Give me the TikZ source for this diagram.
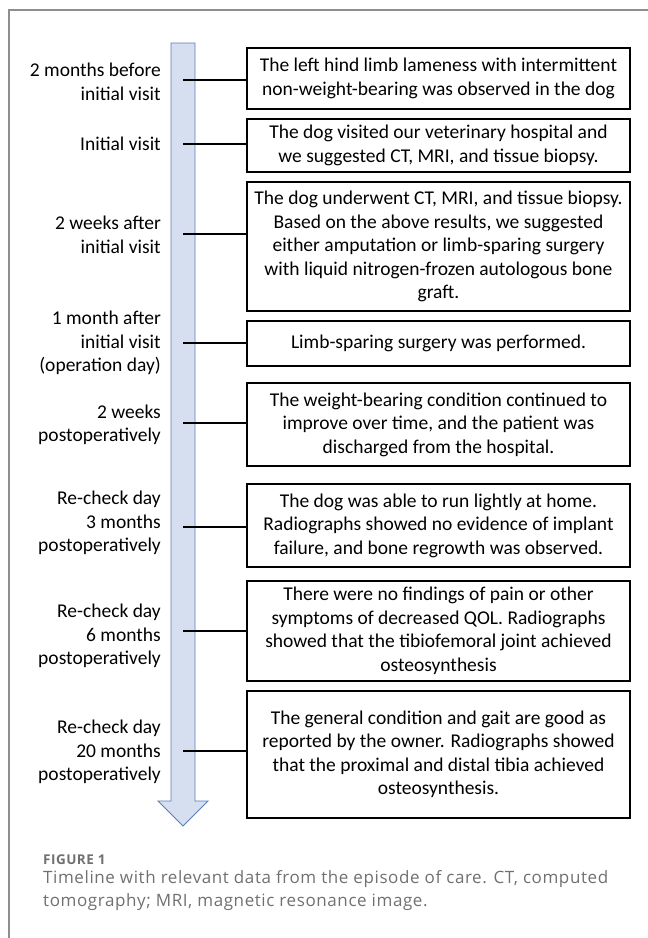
\documentclass[tikz,border=0pt]{standalone}
\usepackage{fontspec}
\setmainfont{Carlito}
\newfontfamily\capfont[LetterSpace=3.5]{Open Sans}
\usetikzlibrary{calc}

\definecolor{shaftfill}{HTML}{D6DFEF}
\definecolor{shaftline}{HTML}{5B7DB9}
\definecolor{framegray}{HTML}{8E8E8E}
\definecolor{capgray}{HTML}{707070}

\tikzset{
  event/.style={draw, line width=1.6pt, align=center, minimum width=383pt,
    inner sep=0pt, font=\fontsize{19.5}{23.5}\selectfont},
  when/.style={anchor=east, align=right, inner sep=0pt,
    font=\fontsize{19.5}{23.5}\selectfont},
  tick/.style={line width=1.5pt},
}

\begin{document}
\begin{tikzpicture}[x=1pt,y=-1pt]
  \useasboundingbox (0,0) rectangle (648,938);

  %% Frame of the figure panel
  \draw[framegray, line width=1.5pt] (9,938) -- (9,10) -- (648,10);

  %% Time arrow
  \draw[shaftline, fill=shaftfill, line width=0.8pt]
    (171,43) -- (195,43) -- (195,801) -- (208,801) -- (183,826)
    -- (158,801) -- (171,801) -- cycle;

  %% Event boxes
  \node[event, minimum height=61] (EV1) at (438.5,78.5)
    {The left hind limb lameness with intermittent\\non-weight-bearing was observed in the dog};
  \node[event, minimum height=53] (EV2) at (438.5,145.5)
    {The dog visited our veterinary hospital and\\we suggested CT, MRI, and tissue biopsy.};
  \node[event, minimum height=129] (EV3) at (438.5,246.5)
    {The dog underwent CT, MRI, and tissue biopsy.\\Based on the above results, we suggested\\either amputation or limb-sparing surgery\\with liquid nitrogen-frozen autologous bone\\graft.};
  \node[event, minimum height=45] (EV4) at (438.5,343.5)
    {Limb-sparing surgery was performed.};
  \node[event, minimum height=83] (EV5) at (438.5,424.5)
    {The weight-bearing condition continued to\\improve over time, and the patient was\\discharged from the hospital.};
  \node[event, minimum height=83] (EV6) at (438.5,525.5)
    {The dog was able to run lightly at home.\\Radiographs showed no evidence of implant\\failure, and bone regrowth was observed.};
  \node[event, minimum height=100] (EV7) at (438.5,631)
    {There were no findings of pain or other\\symptoms of decreased QOL. Radiographs\\showed that the tibiofemoral joint achieved\\osteosynthesis};
  \node[event, minimum height=127] (EV8) at (438.5,754.5)
    {The general condition and gait are good as\\reported by the owner. Radiographs showed\\that the proximal and distal tibia achieved\\osteosynthesis.};

  %% Time labels and ticks to the boxes
  \foreach \n/\c/\txt in {1/82/{2 months before\\initial visit},
                          2/144/{Initial visit},
                          3/235/{2 weeks after\\initial visit},
                          4/343/{1 month after\\initial visit\\(operation day)},
                          5/425/{2 weeks\\postoperatively},
                          6/523/{Re-check day\\3 months\\postoperatively},
                          7/636/{Re-check day\\6 months\\postoperatively},
                          8/752/{Re-check day\\20 months\\postoperatively}}
  {
    \node[when] (WH\n) at (161,\c) {\txt};
  }
  \foreach \n/\c in {1/80,2/144,3/234,4/343,5/423,6/527,7/631,8/751}
  {
    \coordinate (TK\n) at (183,\c);
    \draw[tick] (TK\n) -- (TK\n -| EV\n.west);
  }

  %% Caption
  \node[anchor=base west, inner sep=0pt, text=capgray,
    font=\capfont\bfseries\fontsize{13.5}{15}\selectfont] (FIG) at (43,864) {FIGURE 1};
  \node[anchor=base west, inner sep=0pt, text=capgray,
    font=\capfont\fontsize{17}{23}\selectfont] (CAP) at (43,883)
    {Timeline with relevant data from the episode of care. CT, computed};
  \node[anchor=base west, inner sep=0pt, text=capgray,
    font=\capfont\fontsize{17}{23}\selectfont] (CAPB) at (43,906)
    {tomography; MRI, magnetic resonance image.};
\end{tikzpicture}
\end{document}
